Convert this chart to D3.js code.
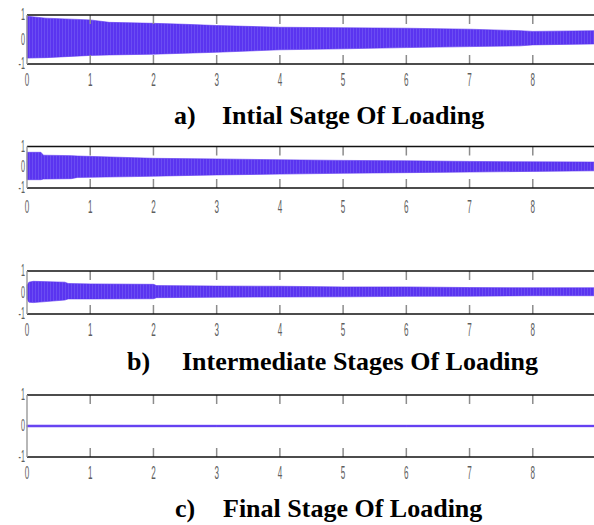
<!DOCTYPE html>
<html>
<head>
<meta charset="utf-8">
<script src="https://cdn.jsdelivr.net/npm/d3@7"></script>
<style>
  body { margin: 0; background: #fff; }
  svg { display: block; }
</style>
</head>
<body>
<svg id="chart" width="594" height="525"></svg>
<script>
const timeA = [0, 0.3, 1, 1.3, 2, 2.5, 3, 4, 5, 6, 7, 7.8, 8, 9];
const upperA = [0.95, 0.87, 0.80, 0.70, 0.66, 0.62, 0.57, 0.50, 0.48, 0.46, 0.42, 0.36, 0.33, 0.36];
const lowerA = [-0.76, -0.74, -0.65, -0.63, -0.60, -0.56, -0.52, -0.42, -0.38, -0.33, -0.29, -0.26, -0.22, -0.18];

const timeB1 = [0, 0.22, 0.26, 0.7, 0.8, 1.7, 2, 3, 4, 5, 6, 7, 8, 9];
const upperB1 = [0.72, 0.72, 0.58, 0.56, 0.54, 0.46, 0.43, 0.40, 0.36, 0.33, 0.31, 0.28, 0.26, 0.25];
const lowerB1 = [-0.60, -0.60, -0.57, -0.55, -0.49, -0.45, -0.43, -0.37, -0.33, -0.29, -0.26, -0.23, -0.20, -0.17];

const timeB2 = [0, 0.03, 0.1, 0.6, 0.65, 1, 2, 2.05, 3, 4, 5, 6, 7, 8, 9];
const upperB2 = [0.35, 0.48, 0.52, 0.48, 0.42, 0.40, 0.38, 0.32, 0.30, 0.29, 0.26, 0.26, 0.23, 0.22, 0.22];
const lowerB2 = [-0.30, -0.45, -0.47, -0.35, -0.30, -0.30, -0.29, -0.24, -0.22, -0.21, -0.20, -0.18, -0.17, -0.15, -0.15];

const timeC = [0, 3, 6, 9];
const upperC = [0.025, 0.022, 0.022, 0.022];
const lowerC = [-0.025, -0.022, -0.022, -0.022];

const xTicks = [0, 1, 2, 3, 4, 5, 6, 7, 8];
const yTicks = [1, 0, -1];

const captions = [
  {tag: "a)", text: "Intial Satge Of Loading"},
  {tag: "b)", text: "Intermediate Stages Of Loading"},
  {tag: "c)", text: "Final Stage Of Loading"}
];

// layout
const panels = [
  {time: timeA, upper: upperA, lower: lowerA, top: 15, bottom: 64, labelY: 80},
  {time: timeB1, upper: upperB1, lower: lowerB1, top: 146.5, bottom: 188, labelY: 207},
  {time: timeB2, upper: upperB2, lower: lowerB2, top: 271, bottom: 314, labelY: 330},
  {time: timeC, upper: upperC, lower: lowerC, top: 395, bottom: 457, labelY: 473}
];
const captionPos = [
  {tagX: 174, textX: 222, y: 124},
  {tagX: 127, textX: 182, y: 370},
  {tagX: 175, textX: 223, y: 517}
];

const svg = d3.select("#chart");
const x = d3.scaleLinear().domain([0, 9]).range([27, 596]);
const signalColor = "#5a34f0";
const tickLen = 9;

// faint vertical striping like the dense oscillation in the scan
const pat = svg.append("defs").append("pattern")
    .attr("id", "osc")
    .attr("patternUnits", "userSpaceOnUse")
    .attr("width", 3).attr("height", 6);
pat.append("rect").attr("width", 3).attr("height", 6).attr("fill", signalColor);
pat.append("rect").attr("x", 2).attr("width", 0.8).attr("height", 6)
    .attr("fill", "#7d68f3").attr("opacity", 0.6);

panels.forEach((p, i) => {
  const y = d3.scaleLinear().domain([-1, 1]).range([p.bottom, p.top]);
  const g = svg.append("g");

  const rows = p.time.map((t, k) => ({t: t, hi: p.upper[k], lo: p.lower[k]}));
  const area = d3.area()
      .x(d => x(d.t))
      .y0(d => y(d.lo))
      .y1(d => y(d.hi));

  g.append("path")
      .datum(rows)
      .attr("fill", i === 3 ? signalColor : "url(#osc)")
      .attr("stroke", signalColor)
      .attr("stroke-width", i === 3 ? 0.9 : 0.6)
      .attr("d", area);

  // inner tick marks, top and bottom
  const ticks = xTicks.filter(t => t > 0);
  g.selectAll(".tt").data(ticks).join("line")
      .attr("x1", d => x(d)).attr("x2", d => x(d))
      .attr("y1", y(1)).attr("y2", y(1) + tickLen)
      .attr("stroke", "#8c8c8c").attr("stroke-width", 1.5);
  g.selectAll(".bt").data(ticks).join("line")
      .attr("x1", d => x(d)).attr("x2", d => x(d))
      .attr("y1", y(-1)).attr("y2", y(-1) - tickLen)
      .attr("stroke", "#8c8c8c").attr("stroke-width", 1.5);

  // box: black top and bottom, grey left edge
  g.append("line")
      .attr("x1", x(0)).attr("x2", x(9) + 2)
      .attr("y1", y(1)).attr("y2", y(1))
      .attr("stroke", "#111").attr("stroke-width", 1.5);
  g.append("line")
      .attr("x1", x(0)).attr("x2", x(9) + 2)
      .attr("y1", y(-1)).attr("y2", y(-1))
      .attr("stroke", "#111").attr("stroke-width", 1.5);
  g.append("line")
      .attr("x1", x(0)).attr("x2", x(0))
      .attr("y1", y(1)).attr("y2", y(-1))
      .attr("stroke", "#999").attr("stroke-width", 1.4);

  // tick labels, tall and narrow
  g.selectAll(".xl").data(xTicks).join("text")
      .attr("transform", d => `translate(${x(d)},${p.labelY}) scale(0.45,1)`)
      .attr("text-anchor", "middle")
      .attr("dominant-baseline", "central")
      .attr("font-family", "Liberation Sans, Arial, sans-serif")
      .attr("font-size", 18)
      .attr("fill", "#5e5e5e")
      .text(d => d);
  g.selectAll(".yl").data(yTicks).join("text")
      .attr("transform", d => `translate(25,${y(d)}) scale(0.45,1)`)
      .attr("text-anchor", "end")
      .attr("dominant-baseline", "central")
      .attr("font-family", "Liberation Sans, Arial, sans-serif")
      .attr("font-size", 16)
      .attr("fill", "#5e5e5e")
      .text(d => d);
});

captions.forEach((c, i) => {
  const pos = captionPos[i];
  const t = svg.append("g")
      .attr("font-family", "Liberation Serif, 'Times New Roman', serif")
      .attr("font-weight", "bold")
      .attr("font-size", 26)
      .attr("fill", "#000");
  t.append("text").attr("x", pos.tagX).attr("y", pos.y).text(c.tag);
  t.append("text").attr("x", pos.textX).attr("y", pos.y).text(c.text);
});
</script>
</body>
</html>
